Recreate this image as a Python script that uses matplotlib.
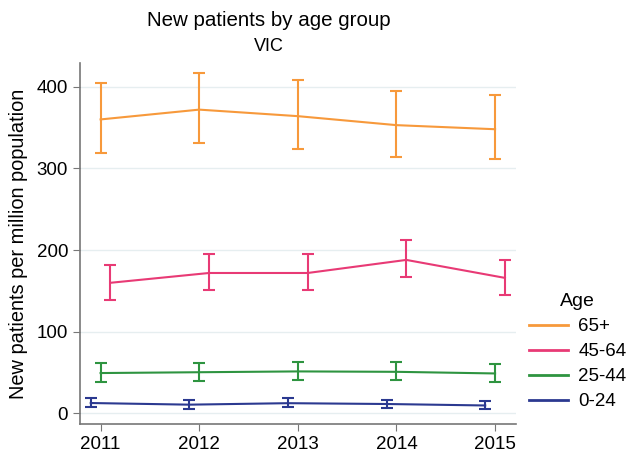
import numpy as np
import matplotlib
matplotlib.use("Agg")
import matplotlib.pyplot as plt
from matplotlib.lines import Line2D

plt.rcParams['font.family'] = ['Liberation Sans', 'DejaVu Sans']

years = [2011, 2012, 2013, 2014, 2015]
groups = ["65+", "45-64", "25-44", "0-24"]
colors = ["#F7993B", "#E83A75", "#2E9440", "#2B3990"]
offsets = [0.0, 0.1, 0.0, -0.1]   # dodge so the bars don't overlap

mean_65 = [360, 372, 364, 353, 348]
lo_65 = [319, 331, 324, 314, 311]
hi_65 = [405, 417, 408, 395, 390]

mean_45 = [160, 172, 172, 188, 166]
lo_45 = [139, 151, 151, 167, 145]
hi_45 = [182, 195, 195, 212, 188]

mean_25 = [49.5, 50.5, 51.5, 51, 49]
lo_25 = [38.7, 39.5, 40.8, 40.4, 38.3]
hi_25 = [61.6, 62, 63.2, 62.8, 61]

mean_0 = [12.8, 10.8, 12.6, 11.6, 9.8]
lo_0 = [7.8, 5.3, 7.8, 6.1, 4.9]
hi_0 = [18.8, 16.7, 19.2, 17.1, 15.5]

means = [mean_65, mean_45, mean_25, mean_0]
lows = [lo_65, lo_45, lo_25, lo_0]
highs = [hi_65, hi_45, hi_25, hi_0]

fig = plt.figure(figsize=(6.29, 4.57), dpi=100)
ax = fig.add_axes([0.127, 0.072, 0.693, 0.79])

for g, c, off, m, lo, hi in zip(groups, colors, offsets, means, lows, highs):
    x = np.array(years) + off
    m = np.array(m)
    err = [m - np.array(lo), np.array(hi) - m]
    ax.errorbar(x, m, yerr=err, color=c, lw=1.5, elinewidth=1.5,
                capsize=4, capthick=1.5)

ax.set_xlim(2010.79, 2015.21)
ax.set_ylim(-13, 429)
ax.set_xticks(years)
ax.set_yticks([0, 100, 200, 300, 400])
ax.grid(axis="y", color="#E6EEF0", lw=1)
ax.set_axisbelow(True)
for s in ["top", "right"]:
    ax.spines[s].set_visible(False)
for s in ["left", "bottom"]:
    ax.spines[s].set_color("#777777")
    ax.spines[s].set_linewidth(1.2)
ax.tick_params(colors="#777777", labelcolor="black", labelsize=13.5, length=5)
ax.set_ylabel("New patients per million population", fontsize=14.4, labelpad=6)

fig.text(0.428, 0.956, "New patients by age group", ha="center", va="center", fontsize=14.8)
fig.text(0.428, 0.899, "VIC", ha="center", va="center", fontsize=13)

handles = [Line2D([], [], color=c, lw=2) for c in colors]
leg = fig.legend(handles, groups, loc="upper left", bbox_to_anchor=(0.814, 0.395),
                 frameon=False, title="Age", fontsize=13.5, title_fontsize=14,
                 handlelength=2.1, handletextpad=0.53, labelspacing=0.42)

fig.savefig("out.png", dpi=100)
